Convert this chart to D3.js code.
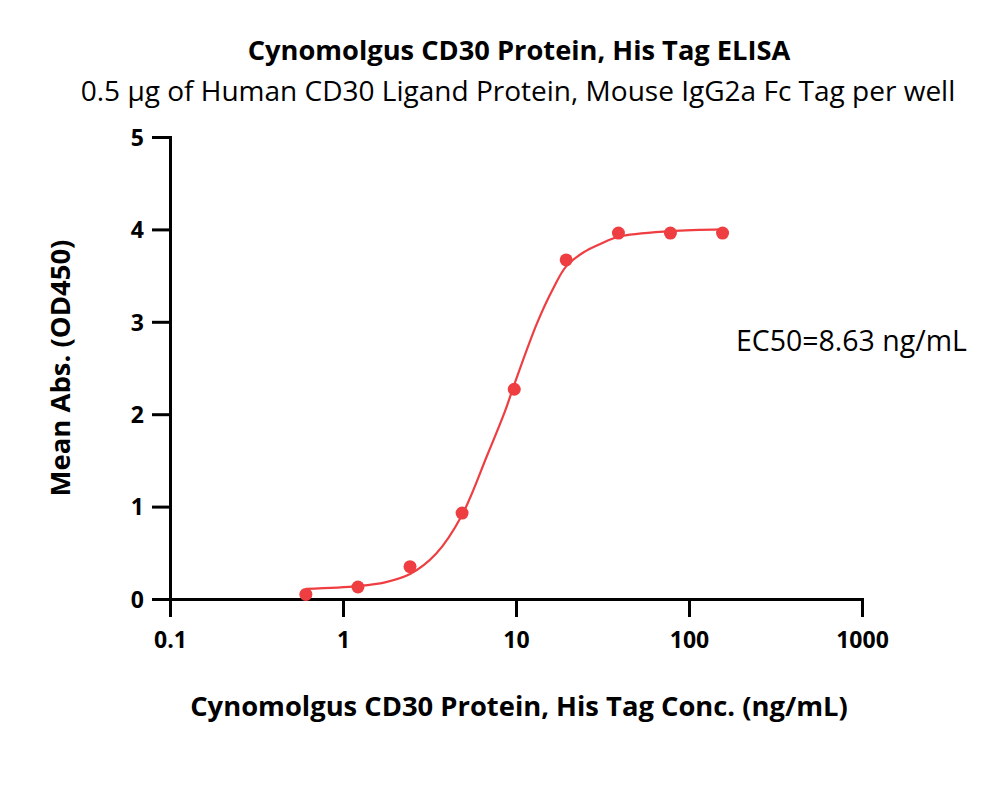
<!DOCTYPE html>
<html>
<head>
<meta charset="utf-8">
<script src="https://cdn.jsdelivr.net/npm/d3@7/dist/d3.min.js"></script>
<style>
  body { margin: 0; background: #fff; }
  text { font-family: "Open Sans", "Noto Sans", sans-serif; fill: #000; }
</style>
</head>
<body>
<div id="chart"></div>
<script>
// measured points (ng/mL vs OD450)
const conc = [0.61, 1.22, 2.44, 4.88, 9.77, 19.5, 39.1, 78.1, 156.3];
const od = [0.05, 0.13, 0.35, 0.93, 2.27, 3.67, 3.96, 3.96, 3.96];

// fitted curve
const fitConc = [0.61, 1.22, 1.75, 2.44, 3.45, 4.88, 6.8, 8.63, 9.77, 13.2, 16.4, 19.5, 24.5, 30.5, 39.1, 78.1, 156.3];
const fitOd = [0.11, 0.14, 0.18, 0.27, 0.49, 0.91, 1.55, 2.03, 2.32, 2.98, 3.36, 3.60, 3.75, 3.84, 3.92, 3.98, 4.0];

const xTicks = [0.1, 1, 10, 100, 1000];
const xTickLabels = ["0.1", "1", "10", "100", "1000"];
const yTicks = [0, 1, 2, 3, 4, 5];

const titleText = "Cynomolgus CD30 Protein, His Tag ELISA";
const subtitleText = "0.5 \u00b5g of Human CD30 Ligand Protein, Mouse IgG2a Fc Tag per well";
const xLabelText = "Cynomolgus CD30 Protein, His Tag Conc. (ng/mL)";
const yLabelText = "Mean Abs. (OD450)";
const ec50Text = "EC50=8.63 ng/mL";

const width = 1000, height = 796;
const red = "#ef3e42";

const svg = d3.select("#chart").append("svg")
  .attr("width", width)
  .attr("height", height);

const x = d3.scaleLog().domain([0.1, 1000]).range([170, 862]);
const y = d3.scaleLinear().domain([0, 5]).range([599, 137]);

// size a text so it spans a given width
function fitText(sel, w) {
  sel.attr("font-size", 20);
  const len = sel.node().getComputedTextLength();
  sel.attr("font-size", 20 * w / len);
  return sel;
}

fitText(svg.append("text")
  .attr("x", 519).attr("y", 60)
  .attr("text-anchor", "middle")
  .attr("font-weight", "bold")
  .text(titleText), 543);

fitText(svg.append("text")
  .attr("x", 518).attr("y", 101)
  .attr("text-anchor", "middle")
  .text(subtitleText), 875);

// axes
const xAxis = d3.axisBottom(x)
  .tickValues(xTicks)
  .tickFormat((d, i) => xTickLabels[i])
  .tickSize(18)
  .tickSizeOuter(0)
  .tickPadding(10);

const yAxis = d3.axisLeft(y)
  .tickValues(yTicks)
  .tickFormat(d3.format("d"))
  .tickSize(18)
  .tickSizeOuter(0)
  .tickPadding(8);

const gx = svg.append("g")
  .attr("transform", "translate(0," + y(0) + ")")
  .call(xAxis);

const gy = svg.append("g")
  .attr("transform", "translate(" + x(0.1) + ",0)")
  .call(yAxis);

[gx, gy].forEach(g => {
  g.select(".domain").attr("stroke", "#000").attr("stroke-width", 3).attr("stroke-linecap", "square");
  g.selectAll(".tick line").attr("stroke", "#000").attr("stroke-width", 3);
  g.selectAll(".tick text")
    .attr("font-family", "'Open Sans', sans-serif")
    .attr("font-size", 23)
    .attr("font-weight", "bold")
    .attr("fill", "#000");
});
gy.selectAll(".tick text").attr("dy", "0.36em");
gx.selectAll(".tick text").attr("dy", "0.9em");

// fitted curve
const line = d3.line()
  .x((d, i) => x(fitConc[i]))
  .y(d => y(d))
  .curve(d3.curveCatmullRom.alpha(0.5));

svg.append("path")
  .datum(fitOd)
  .attr("fill", "none")
  .attr("stroke", red)
  .attr("stroke-width", 2.2)
  .attr("d", line);

// points
svg.selectAll(".pt")
  .data(od)
  .enter().append("circle")
  .attr("class", "pt")
  .attr("cx", (d, i) => x(conc[i]))
  .attr("cy", d => y(d))
  .attr("r", 6.5)
  .attr("fill", red);

fitText(svg.append("text")
  .attr("x", 736).attr("y", 351)
  .text(ec50Text), 231);

fitText(svg.append("text")
  .attr("x", 519).attr("y", 716)
  .attr("text-anchor", "middle")
  .attr("font-weight", "bold")
  .text(xLabelText), 658);

fitText(svg.append("text")
  .attr("transform", "translate(70,368) rotate(-90)")
  .attr("text-anchor", "middle")
  .attr("font-weight", "bold")
  .text(yLabelText), 257);
</script>
</body>
</html>
